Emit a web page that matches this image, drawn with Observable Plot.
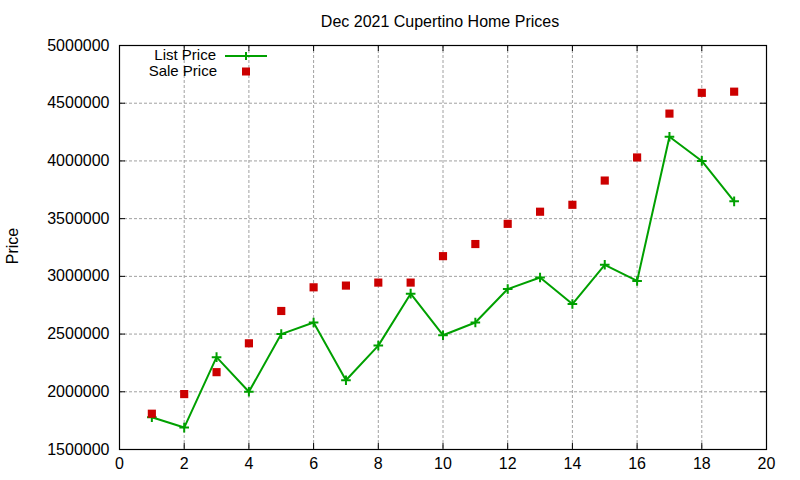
<!DOCTYPE html>
<html>
<head>
<meta charset="utf-8">
<script src="https://cdn.jsdelivr.net/npm/d3@7"></script>
<script src="https://cdn.jsdelivr.net/npm/@observablehq/plot@0.6"></script>
<style>
  html, body { margin: 0; padding: 0; background: #fff; }
  #chart svg { display: block; }
</style>
</head>
<body>
<div id="chart"></div>
<script>
const houses = [1,2,3,4,5,6,7,8,9,10,11,12,13,14,15,16,17,18,19];
const listPrice = [1780000,1690000,2300000,2000000,2500000,2600000,2100000,2400000,2850000,2490000,2600000,2890000,2990000,2760000,3100000,2960000,4210000,4000000,3650000];
const salePrice = [1810000,1980000,2170000,2420000,2700000,2905000,2920000,2946000,2946000,3175000,3280000,3455000,3560000,3620000,3830000,4030000,4410000,4590000,4600000];
const xTicks = [0,2,4,6,8,10,12,14,16,18,20];
const yTicks = [1500000,2000000,2500000,3000000,3500000,4000000,4500000,5000000];

const title = "Dec 2021 Cupertino Home Prices";
const yLabel = "Price";
const legendLabels = ["List Price", "Sale Price"];
const green = "#00a000";
const red = "#cc0000";

const listData = houses.map((h, i) => ({x: h, y: listPrice[i]}));
const saleData = houses.map((h, i) => ({x: h, y: salePrice[i]}));

const W = 800, H = 480;
const mL = 119, mR = 34, mT = 45, mB = 31;
const innerH = H - mT - mB, innerW = W - mL - mR;
const font = "Arial, 'Liberation Sans', sans-serif";

const plot = Plot.plot({
  width: W, height: H,
  marginLeft: mL, marginRight: mR, marginTop: mT, marginBottom: mB,
  style: {fontFamily: font, fontSize: "16px", background: "#fff", color: "#000"},
  x: {domain: [0, 20]},
  y: {domain: [1500000, 5000000]},
  marks: [
    Plot.gridX(xTicks.slice(1, -1), {stroke: "#a0a0a0", strokeOpacity: 1, strokeDasharray: "3,2", strokeWidth: 1}),
    Plot.gridY(yTicks.slice(1, -1), {stroke: "#a0a0a0", strokeOpacity: 1, strokeDasharray: "3,2", strokeWidth: 1}),
    Plot.tickX(xTicks, {x: d => d, insetTop: innerH - 6, stroke: "#000"}),
    Plot.tickX(xTicks, {x: d => d, insetBottom: innerH - 6, stroke: "#000"}),
    Plot.tickY(yTicks, {y: d => d, insetRight: innerW - 6, stroke: "#000"}),
    Plot.tickY(yTicks, {y: d => d, insetLeft: innerW - 6, stroke: "#000"}),
    Plot.frame({stroke: "#000", strokeWidth: 1.2}),
    Plot.axisX({ticks: xTicks, tickSize: 0, tickPadding: 8, label: null, tickFormat: d => String(d), fontSize: 16}),
    Plot.axisY({ticks: yTicks, tickSize: 0, tickPadding: 10, label: null, tickFormat: d => String(d), fontSize: 16}),
    Plot.line(listData, {x: "x", y: "y", stroke: green, strokeWidth: 2}),
    Plot.dot(listData, {x: "x", y: "y", symbol: "plus", r: 3.2, stroke: green, strokeWidth: 2}),
    Plot.dot(saleData, {x: "x", y: "y", symbol: "square", r: 4.6, fill: red, stroke: "none"})
  ]
});

const svg = d3.select(plot);
svg.append("text").attr("x", 440).attr("y", 27).attr("text-anchor", "middle")
  .attr("font-family", font).attr("font-size", 16).attr("fill", "#000").text(title);
svg.append("text").attr("transform", "translate(18,246) rotate(-90)").attr("text-anchor", "middle")
  .attr("font-family", font).attr("font-size", 16).attr("fill", "#000").text(yLabel);

const lg = svg.append("g").attr("font-family", font).attr("font-size", 15).attr("fill", "#000");
lg.append("text").attr("x", 216).attr("y", 60).attr("text-anchor", "end").text(legendLabels[0]);
lg.append("line").attr("x1", 225).attr("x2", 267).attr("y1", 56).attr("y2", 56).attr("stroke", green).attr("stroke-width", 2);
lg.append("path").attr("d", "M242,56H250M246,52V60").attr("stroke", green).attr("stroke-width", 2);
lg.append("text").attr("x", 217).attr("y", 76).attr("text-anchor", "end").text(legendLabels[1]);
lg.append("rect").attr("x", 242).attr("y", 67.5).attr("width", 8).attr("height", 8).attr("fill", red);

document.getElementById("chart").appendChild(plot);
</script>
</body>
</html>
